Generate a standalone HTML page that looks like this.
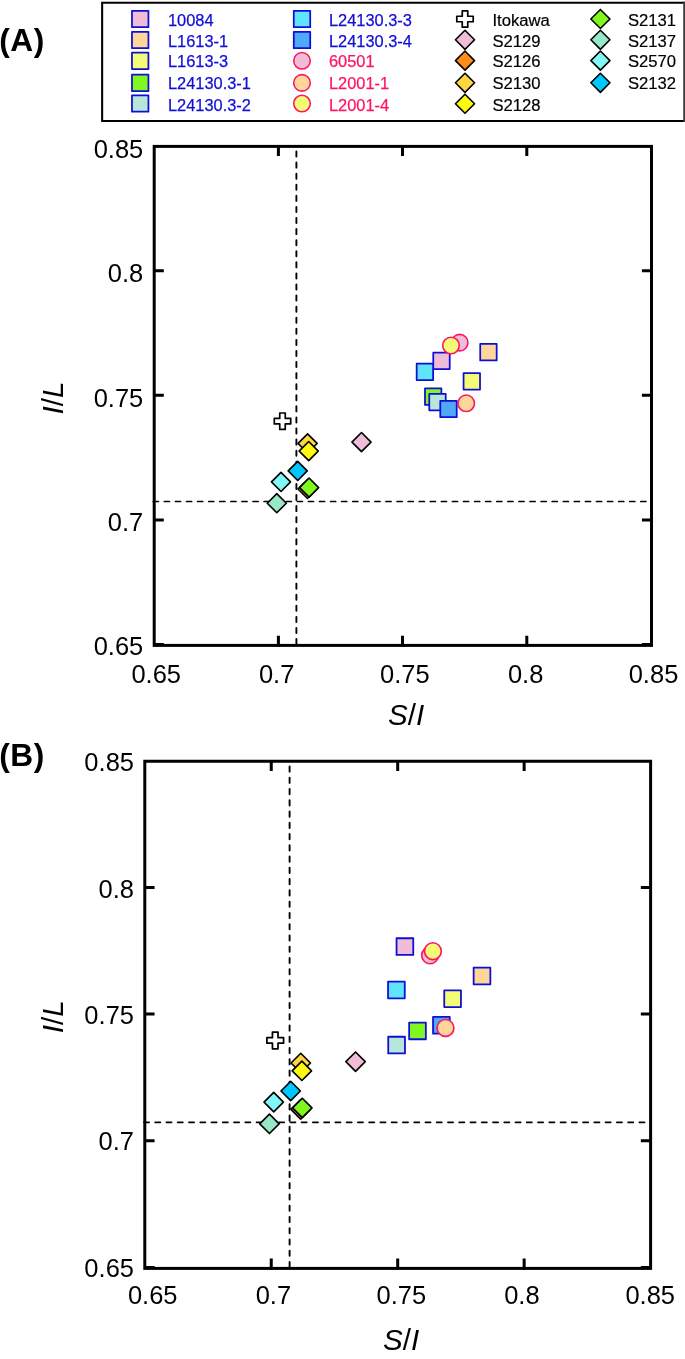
<!DOCTYPE html>
<html lang="en"><head><meta charset="utf-8"><title>S/I vs I/L</title>
<style>html,body{margin:0;padding:0;background:#fff}svg{display:block}text{font-family:"Liberation Sans",sans-serif}.lg{font-size:16.4px;stroke-width:0.25px}.lk{font-size:16.65px;fill:#000;stroke:#000;stroke-width:0.2px}.tk{font-size:25.5px}.ax{font-size:29.6px;font-style:italic}.pn{font-weight:bold;font-size:31.7px;letter-spacing:0.6px}</style></head><body>
<svg width="685" height="1359" viewBox="0 0 685 1359">
<rect width="685" height="1359" fill="#fff"/>
<path d="M685 2.65H102.15V120.95H685" fill="none" stroke="#000" stroke-width="2.05"/><rect x="683.25" y="1.63" width="1.75" height="120.35" fill="#3a3a3a"/>
<rect x="131.97" y="10.78" width="16.45" height="16.45" fill="#f0bdd8" stroke="#100ed6" stroke-width="1.75" stroke-linejoin="round"/>
<text class="lg" x="168" y="25.9" fill="#100ed6" stroke="#100ed6">10084</text>
<rect x="131.97" y="31.77" width="16.45" height="16.45" fill="#ffd699" stroke="#100ed6" stroke-width="1.75" stroke-linejoin="round"/>
<text class="lg" x="168" y="46.6" fill="#100ed6" stroke="#100ed6">L1613-1</text>
<rect x="131.97" y="52.57" width="16.45" height="16.45" fill="#f4fc76" stroke="#100ed6" stroke-width="1.75" stroke-linejoin="round"/>
<text class="lg" x="168" y="67.1" fill="#100ed6" stroke="#100ed6">L1613-3</text>
<rect x="131.97" y="74.68" width="16.45" height="16.45" fill="#80f820" stroke="#100ed6" stroke-width="1.75" stroke-linejoin="round"/>
<text class="lg" x="168" y="89.2" fill="#100ed6" stroke="#100ed6">L24130.3-1</text>
<rect x="131.97" y="95.28" width="16.45" height="16.45" fill="#b8e6d8" stroke="#100ed6" stroke-width="1.75" stroke-linejoin="round"/>
<text class="lg" x="168" y="110.5" fill="#100ed6" stroke="#100ed6">L24130.3-2</text>
<rect x="293.77" y="10.78" width="16.45" height="16.45" fill="#60e4fc" stroke="#100ed6" stroke-width="1.75" stroke-linejoin="round"/>
<text class="lg" x="329" y="25.9" fill="#100ed6" stroke="#100ed6">L24130.3-3</text>
<rect x="293.77" y="31.77" width="16.45" height="16.45" fill="#50a8f8" stroke="#100ed6" stroke-width="1.75" stroke-linejoin="round"/>
<text class="lg" x="329" y="46.6" fill="#100ed6" stroke="#100ed6">L24130.3-4</text>
<circle cx="302.00" cy="60.80" r="8.27" fill="#f0bdd8" stroke="#ff1464" stroke-width="1.60"/>
<text class="lg" x="329" y="67.1" fill="#ff1464" stroke="#ff1464">60501</text>
<circle cx="302.00" cy="82.90" r="8.27" fill="#ffd699" stroke="#ff1464" stroke-width="1.60"/>
<text class="lg" x="329" y="89.2" fill="#ff1464" stroke="#ff1464">L2001-1</text>
<circle cx="302.00" cy="103.50" r="8.27" fill="#f4fc76" stroke="#ff1464" stroke-width="1.60"/>
<text class="lg" x="329" y="110.5" fill="#ff1464" stroke="#ff1464">L2001-4</text>
<path d="M462.25 10.80L467.75 10.80L467.75 16.25L473.20 16.25L473.20 21.75L467.75 21.75L467.75 27.20L462.25 27.20L462.25 21.75L456.80 21.75L456.80 16.25L462.25 16.25Z" fill="#fff" stroke="#000" stroke-width="1.70" stroke-linejoin="round"/>
<text class="lg lk" x="492.5" y="25.9">Itokawa</text>
<path d="M465.00 30.25L474.55 39.80L465.00 49.35L455.45 39.80Z" fill="#f0bdd8" stroke="#000" stroke-width="1.60" stroke-linejoin="round"/>
<text class="lg lk" x="492.5" y="46.6">S2129</text>
<path d="M465.00 51.05L474.55 60.60L465.00 70.15L455.45 60.60Z" fill="#ff8c1a" stroke="#000" stroke-width="1.60" stroke-linejoin="round"/>
<text class="lg lk" x="492.5" y="67.1">S2126</text>
<path d="M465.00 73.25L474.55 82.80L465.00 92.35L455.45 82.80Z" fill="#ffd640" stroke="#000" stroke-width="1.60" stroke-linejoin="round"/>
<text class="lg lk" x="492.5" y="89.2">S2130</text>
<path d="M465.00 94.20L474.55 103.75L465.00 113.30L455.45 103.75Z" fill="#fff810" stroke="#000" stroke-width="1.60" stroke-linejoin="round"/>
<text class="lg lk" x="492.5" y="110.5">S2128</text>
<path d="M600.40 9.45L609.95 19.00L600.40 28.55L590.85 19.00Z" fill="#80f820" stroke="#000" stroke-width="1.60" stroke-linejoin="round"/>
<text class="lg lk" x="628" y="25.9">S2131</text>
<path d="M600.40 30.25L609.95 39.80L600.40 49.35L590.85 39.80Z" fill="#98e8c8" stroke="#000" stroke-width="1.60" stroke-linejoin="round"/>
<text class="lg lk" x="628" y="46.6">S2137</text>
<path d="M600.40 51.05L609.95 60.60L600.40 70.15L590.85 60.60Z" fill="#80f8f8" stroke="#000" stroke-width="1.60" stroke-linejoin="round"/>
<text class="lg lk" x="628" y="67.1">S2570</text>
<path d="M600.40 73.25L609.95 82.80L600.40 92.35L590.85 82.80Z" fill="#00c8ff" stroke="#000" stroke-width="1.60" stroke-linejoin="round"/>
<text class="lg lk" x="628" y="89.2">S2132</text>
<text class="pn" x="-0.8" y="50.8">(A)</text>
<text class="pn" x="-0.8" y="765.6">(B)</text>
<path d="M296.4 644.1L296.4 146.4" fill="none" stroke="#000" stroke-width="1.9" stroke-linecap="round" stroke-dasharray="5.1 5.98"/>
<path d="M153.29999999999998 501.5L651.5 501.5" fill="none" stroke="#000" stroke-width="1.7" stroke-linecap="round" stroke-dasharray="5.1 5.98"/>
<path d="M154.2 644.5h9.60M651.5 644.5h-9.60M154.2 519.9h9.60M651.5 519.9h-9.60M154.2 395.3h9.60M651.5 395.3h-9.60M154.2 270.70000000000005h9.60M651.5 270.70000000000005h-9.60M278.4 646.6999999999999v-10.90M278.4 146.4v9.60M402.5 646.6999999999999v-10.90M402.5 146.4v9.60M526.8 646.6999999999999v-10.90M526.8 146.4v9.60" fill="none" stroke="#000" stroke-width="3"/>
<rect x="154.2" y="146.4" width="497.30" height="499.00" fill="none" stroke="#000" stroke-width="3"/>
<rect x="433.27" y="352.67" width="16.45" height="16.45" fill="#f0bdd8" stroke="#100ed6" stroke-width="1.75" stroke-linejoin="round"/>
<rect x="480.22" y="343.97" width="16.45" height="16.45" fill="#ffd699" stroke="#100ed6" stroke-width="1.75" stroke-linejoin="round"/>
<rect x="463.57" y="373.07" width="16.45" height="16.45" fill="#f4fc76" stroke="#100ed6" stroke-width="1.75" stroke-linejoin="round"/>
<rect x="424.97" y="388.47" width="16.45" height="16.45" fill="#80f820" stroke="#100ed6" stroke-width="1.75" stroke-linejoin="round"/>
<rect x="429.27" y="393.88" width="16.45" height="16.45" fill="#b8e6d8" stroke="#100ed6" stroke-width="1.75" stroke-linejoin="round"/>
<rect x="416.67" y="363.67" width="16.45" height="16.45" fill="#60e4fc" stroke="#100ed6" stroke-width="1.75" stroke-linejoin="round"/>
<rect x="440.27" y="400.77" width="16.45" height="16.45" fill="#50a8f8" stroke="#100ed6" stroke-width="1.75" stroke-linejoin="round"/>
<circle cx="459.70" cy="342.60" r="8.27" fill="#f0bdd8" stroke="#ff1464" stroke-width="1.60"/>
<circle cx="466.20" cy="403.30" r="8.27" fill="#ffd699" stroke="#ff1464" stroke-width="1.60"/>
<circle cx="451.00" cy="345.50" r="8.27" fill="#f4fc76" stroke="#ff1464" stroke-width="1.60"/>
<path d="M279.75 413.00L285.25 413.00L285.25 418.45L290.70 418.45L290.70 423.95L285.25 423.95L285.25 429.40L279.75 429.40L279.75 423.95L274.30 423.95L274.30 418.45L279.75 418.45Z" fill="#fff" stroke="#000" stroke-width="1.70" stroke-linejoin="round"/>
<path d="M361.50 432.55L371.05 442.10L361.50 451.65L351.95 442.10Z" fill="#f0bdd8" stroke="#000" stroke-width="1.60" stroke-linejoin="round"/>
<path d="M307.50 479.45L317.05 489.00L307.50 498.55L297.95 489.00Z" fill="#ff8c1a" stroke="#000" stroke-width="1.60" stroke-linejoin="round"/>
<path d="M307.60 433.85L317.15 443.40L307.60 452.95L298.05 443.40Z" fill="#ffd640" stroke="#000" stroke-width="1.60" stroke-linejoin="round"/>
<path d="M308.70 441.55L318.25 451.10L308.70 460.65L299.15 451.10Z" fill="#fff810" stroke="#000" stroke-width="1.60" stroke-linejoin="round"/>
<path d="M309.10 478.05L318.65 487.60L309.10 497.15L299.55 487.60Z" fill="#80f820" stroke="#000" stroke-width="1.60" stroke-linejoin="round"/>
<path d="M276.80 493.65L286.35 503.20L276.80 512.75L267.25 503.20Z" fill="#98e8c8" stroke="#000" stroke-width="1.60" stroke-linejoin="round"/>
<path d="M281.00 472.35L290.55 481.90L281.00 491.45L271.45 481.90Z" fill="#80f8f8" stroke="#000" stroke-width="1.60" stroke-linejoin="round"/>
<path d="M297.70 461.35L307.25 470.90L297.70 480.45L288.15 470.90Z" fill="#00c8ff" stroke="#000" stroke-width="1.60" stroke-linejoin="round"/>
<text class="tk" transform="translate(143.3 158.1) scale(1 1.045)" text-anchor="end">0.85</text>
<text class="tk" transform="translate(143.3 282.4) scale(1 1.045)" text-anchor="end">0.8</text>
<text class="tk" transform="translate(143.3 406.7) scale(1 1.045)" text-anchor="end">0.75</text>
<text class="tk" transform="translate(143.3 531.0) scale(1 1.045)" text-anchor="end">0.7</text>
<text class="tk" transform="translate(143.3 655.3) scale(1 1.045)" text-anchor="end">0.65</text>
<text class="tk" transform="translate(156.2 682.9) scale(1 1.045)" text-anchor="middle">0.65</text>
<text class="tk" transform="translate(276.6 682.9) scale(1 1.045)" text-anchor="middle">0.7</text>
<text class="tk" transform="translate(404.8 682.9) scale(1 1.045)" text-anchor="middle">0.75</text>
<text class="tk" transform="translate(525.6 682.9) scale(1 1.045)" text-anchor="middle">0.8</text>
<text class="tk" transform="translate(653.5 682.9) scale(1 1.045)" text-anchor="middle">0.85</text>
<text class="ax" x="406" y="725" text-anchor="middle">S<tspan style="font-style:normal">/</tspan>I</text>
<text class="ax" transform="translate(62.8 398) rotate(-90)" text-anchor="middle">I<tspan style="font-style:normal">/</tspan>L</text>
<path d="M289.6 1267.1000000000001L289.6 761.25" fill="none" stroke="#000" stroke-width="1.9" stroke-linecap="round" stroke-dasharray="5.2 6.06"/>
<path d="M143.9 1122.3L650.6 1122.3" fill="none" stroke="#000" stroke-width="1.7" stroke-linecap="round" stroke-dasharray="5.2 6.06"/>
<path d="M144.8 1267.5h9.76M650.6 1267.5h-9.76M144.8 1140.8h9.76M650.6 1140.8h-9.76M144.8 1014.1h9.76M650.6 1014.1h-9.76M144.8 887.4h9.76M650.6 887.4h-9.76M271.25 1269.7v-11.08M271.25 761.25v9.76M397.70000000000005 1269.7v-11.08M397.70000000000005 761.25v9.76M524.1500000000001 1269.7v-11.08M524.1500000000001 761.25v9.76" fill="none" stroke="#000" stroke-width="3"/>
<rect x="144.8" y="761.25" width="505.80" height="507.15" fill="none" stroke="#000" stroke-width="3"/>
<rect x="396.54" y="938.24" width="16.72" height="16.72" fill="#f0bdd8" stroke="#100ed6" stroke-width="1.78" stroke-linejoin="round"/>
<rect x="473.64" y="967.64" width="16.72" height="16.72" fill="#ffd699" stroke="#100ed6" stroke-width="1.78" stroke-linejoin="round"/>
<rect x="444.24" y="990.34" width="16.72" height="16.72" fill="#f4fc76" stroke="#100ed6" stroke-width="1.78" stroke-linejoin="round"/>
<rect x="409.14" y="1022.54" width="16.72" height="16.72" fill="#80f820" stroke="#100ed6" stroke-width="1.78" stroke-linejoin="round"/>
<rect x="388.24" y="1036.74" width="16.72" height="16.72" fill="#b8e6d8" stroke="#100ed6" stroke-width="1.78" stroke-linejoin="round"/>
<rect x="388.04" y="981.64" width="16.72" height="16.72" fill="#60e4fc" stroke="#100ed6" stroke-width="1.78" stroke-linejoin="round"/>
<rect x="433.04" y="1016.94" width="16.72" height="16.72" fill="#50a8f8" stroke="#100ed6" stroke-width="1.78" stroke-linejoin="round"/>
<circle cx="430.10" cy="955.30" r="8.41" fill="#f0bdd8" stroke="#ff1464" stroke-width="1.63"/>
<circle cx="445.50" cy="1027.90" r="8.41" fill="#ffd699" stroke="#ff1464" stroke-width="1.63"/>
<circle cx="432.90" cy="951.20" r="8.41" fill="#f4fc76" stroke="#ff1464" stroke-width="1.63"/>
<path d="M272.44 1032.09L278.04 1032.09L278.04 1037.63L283.58 1037.63L283.58 1043.22L278.04 1043.22L278.04 1048.76L272.44 1048.76L272.44 1043.22L266.90 1043.22L266.90 1037.63L272.44 1037.63Z" fill="#fff" stroke="#000" stroke-width="1.73" stroke-linejoin="round"/>
<path d="M355.56 1051.97L365.27 1061.68L355.56 1071.39L345.85 1061.68Z" fill="#f0bdd8" stroke="#000" stroke-width="1.63" stroke-linejoin="round"/>
<path d="M300.66 1099.66L310.37 1109.37L300.66 1119.08L290.95 1109.37Z" fill="#ff8c1a" stroke="#000" stroke-width="1.63" stroke-linejoin="round"/>
<path d="M300.76 1053.29L310.47 1063.00L300.76 1072.71L291.05 1063.00Z" fill="#ffd640" stroke="#000" stroke-width="1.63" stroke-linejoin="round"/>
<path d="M301.88 1061.12L311.59 1070.83L301.88 1080.54L292.17 1070.83Z" fill="#fff810" stroke="#000" stroke-width="1.63" stroke-linejoin="round"/>
<path d="M302.28 1098.23L311.99 1107.94L302.28 1117.65L292.57 1107.94Z" fill="#80f820" stroke="#000" stroke-width="1.63" stroke-linejoin="round"/>
<path d="M269.44 1114.10L279.15 1123.81L269.44 1133.52L259.74 1123.81Z" fill="#98e8c8" stroke="#000" stroke-width="1.63" stroke-linejoin="round"/>
<path d="M273.72 1092.44L283.42 1102.15L273.72 1111.86L264.01 1102.15Z" fill="#80f8f8" stroke="#000" stroke-width="1.63" stroke-linejoin="round"/>
<path d="M290.69 1081.25L300.40 1090.96L290.69 1100.67L280.98 1090.96Z" fill="#00c8ff" stroke="#000" stroke-width="1.63" stroke-linejoin="round"/>
<text class="tk" transform="translate(134 771.2) scale(1 1.045)" text-anchor="end">0.85</text>
<text class="tk" transform="translate(134 897.6) scale(1 1.045)" text-anchor="end">0.8</text>
<text class="tk" transform="translate(134 1024.0) scale(1 1.045)" text-anchor="end">0.75</text>
<text class="tk" transform="translate(134 1150.4) scale(1 1.045)" text-anchor="end">0.7</text>
<text class="tk" transform="translate(134 1276.8) scale(1 1.045)" text-anchor="end">0.65</text>
<text class="tk" transform="translate(152.7 1304.1) scale(1 1.045)" text-anchor="middle">0.65</text>
<text class="tk" transform="translate(273.4 1304.1) scale(1 1.045)" text-anchor="middle">0.7</text>
<text class="tk" transform="translate(401.3 1304.1) scale(1 1.045)" text-anchor="middle">0.75</text>
<text class="tk" transform="translate(521.9 1304.1) scale(1 1.045)" text-anchor="middle">0.8</text>
<text class="tk" transform="translate(650.2 1304.1) scale(1 1.045)" text-anchor="middle">0.85</text>
<text class="ax" x="401" y="1350" text-anchor="middle">S<tspan style="font-style:normal">/</tspan>I</text>
<text class="ax" transform="translate(62.9 1016.8) rotate(-90)" text-anchor="middle">I<tspan style="font-style:normal">/</tspan>L</text>
</svg></body></html>
